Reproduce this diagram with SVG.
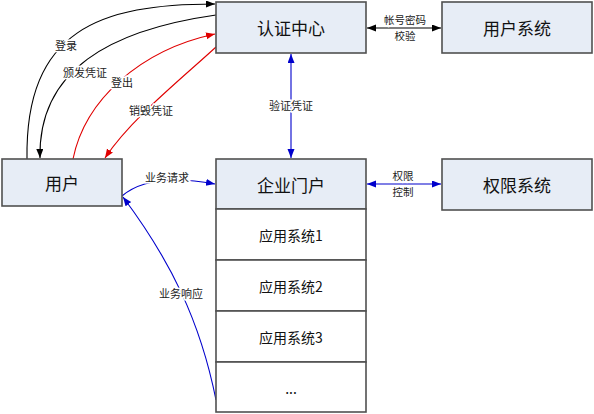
<svg xmlns="http://www.w3.org/2000/svg" width="594" height="414" viewBox="0 0 594 414">
<style>
.box{fill:#e7edf6;stroke:#505050;stroke-width:1.6}
.row{fill:#ffffff;stroke:#505050;stroke-width:1.6}
.t{font-family:"Microsoft YaHei","Noto Sans CJK SC",sans-serif;font-size:17px;fill:#111;text-anchor:middle;dominant-baseline:central}
.ts{font-family:"Microsoft YaHei","Noto Sans CJK SC",sans-serif;font-size:14px;fill:#111;text-anchor:middle;dominant-baseline:central}
.lb{font-family:"Microsoft YaHei","Noto Sans CJK SC",sans-serif;font-size:11px;fill:#222;text-anchor:middle;dominant-baseline:central;stroke:#fff;stroke-width:3;paint-order:stroke}
.l2{font-size:10.5px}
.k{fill:none;stroke:#000;stroke-width:1.1}
.r{fill:none;stroke:#e00000;stroke-width:1.1}
.b{fill:none;stroke:#0000cc;stroke-width:1.1}
</style>
<defs>
<marker id="ak" markerUnits="userSpaceOnUse" markerWidth="10" markerHeight="8" refX="9" refY="3.5" orient="auto-start-reverse"><path d="M0,0 L9,3.5 L0,7 z" fill="#000"/></marker>
<marker id="ar" markerUnits="userSpaceOnUse" markerWidth="10" markerHeight="8" refX="9" refY="3.5" orient="auto-start-reverse"><path d="M0,0 L9,3.5 L0,7 z" fill="#e00000"/></marker>
<marker id="ab" markerUnits="userSpaceOnUse" markerWidth="10" markerHeight="8" refX="9" refY="3.5" orient="auto-start-reverse"><path d="M0,0 L9,3.5 L0,7 z" fill="#0000cc"/></marker>
</defs>
<rect width="594" height="414" fill="#fff"/>

<g id="connectors">
<path class="k" d="M27,159 C25,30 100,4 215,4" marker-end="url(#ak)"/>
<path class="k" d="M216,15 C110,30 38,70 40,158" marker-end="url(#ak)"/>
<path class="r" d="M73,159 C85,100 140,50 215,34" marker-end="url(#ar)"/>
<path class="r" d="M216,47 C180,80 130,120 105,158" marker-end="url(#ar)"/>
<path class="b" d="M291,54 L291,158" marker-start="url(#ab)" marker-end="url(#ab)"/>
<path class="k" d="M367,28 L441,28" marker-start="url(#ak)" marker-end="url(#ak)"/>
<path class="b" d="M367,184 L441,184" marker-start="url(#ab)" marker-end="url(#ab)"/>
<path class="b" d="M122,196 Q150,172 215,184" marker-end="url(#ab)"/>
<path class="b" d="M216,400 C200,320 170,260 123,197" marker-end="url(#ab)"/>
<text class="lb" x="66" y="45">登录</text>
<text class="lb" x="85" y="72">颁发凭证</text>
<text class="lb" x="122" y="82">登出</text>
<text class="lb" x="151" y="110">销毁凭证</text>
<text class="lb" x="291" y="105">验证凭证</text>
<text class="lb l2" x="405" y="19.5">帐号密码</text>
<text class="lb l2" x="405" y="35">校验</text>
<text class="lb l2" x="403" y="175.5">权限</text>
<text class="lb l2" x="403" y="191">控制</text>
<text class="lb" x="167" y="177">业务请求</text>
<text class="lb" x="181" y="293">业务响应</text>
</g>

<g id="auth">
<rect class="box" x="216" y="2" width="150" height="51"/>
<text class="t" x="291" y="27">认证中心</text>
</g>
<g id="usersys">
<rect class="box" x="442" y="2" width="150" height="51"/>
<text class="t" x="517" y="27">用户系统</text>
</g>
<g id="user">
<rect class="box" x="2" y="159" width="120" height="47"/>
<text class="t" x="62" y="182">用户</text>
</g>
<g id="portal">
<rect class="box" x="216" y="159" width="150" height="50"/>
<text class="t" x="291" y="184">企业门户</text>
<rect class="row" x="216" y="209" width="150" height="51"/>
<text class="ts" x="291" y="235">应用系统1</text>
<rect class="row" x="216" y="260" width="150" height="51"/>
<text class="ts" x="291" y="286">应用系统2</text>
<rect class="row" x="216" y="311" width="150" height="51"/>
<text class="ts" x="291" y="337">应用系统3</text>
<rect class="row" x="216" y="362" width="150" height="50"/>
<text class="ts" x="291" y="388">...</text>
</g>
<g id="permsys">
<rect class="box" x="442" y="159" width="150" height="51"/>
<text class="t" x="517" y="184">权限系统</text>
</g>
</svg>
